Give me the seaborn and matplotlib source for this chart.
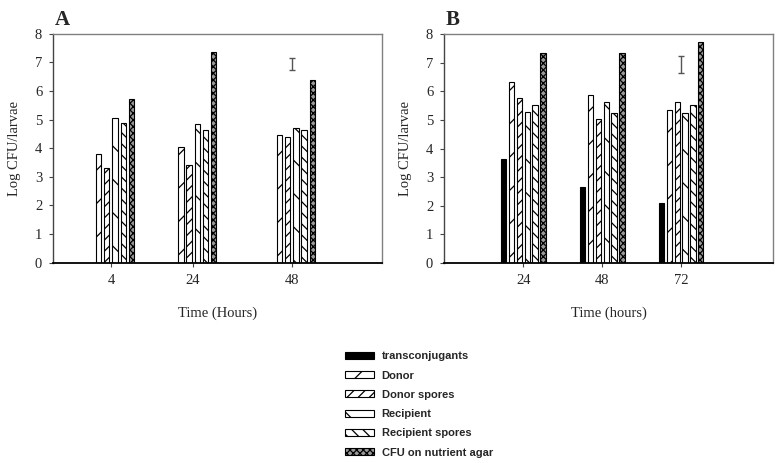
"""
Log CFU/larvae por tiempo — panel A (sin transconjugantes) y panel B.
"""
import matplotlib

matplotlib.use("Agg")
import matplotlib.pyplot as plt
import pandas as pd
import seaborn as sns
from matplotlib.patches import Patch

# --- series y estilo de relleno ----------------------------------------------
SERIES = ["transconjugants", "Donor", "Donor spores", "Recipient",
          "Recipient spores", "CFU on nutrient agar"]
FILL = {"transconjugants": "black", "Donor": "white", "Donor spores": "white",
        "Recipient": "white", "Recipient spores": "white",
        "CFU on nutrient agar": "#9a9a9a"}
HATCH = {"transconjugants": "", "Donor": "/", "Donor spores": "///",
         "Recipient": "\\", "Recipient spores": "\\\\\\",
         "CFU on nutrient agar": "xxxxx"}

# --- datos panel A ------------------------------------------------------------
HOURS_A = [4, 24, 48]
DONOR_A = [3.80, 4.04, 4.47]
DONOR_SPORES_A = [3.32, 3.42, 4.40]
RECIPIENT_A = [5.06, 4.85, 4.71]
RECIPIENT_SPORES_A = [4.88, 4.63, 4.64]
CFU_A = [5.72, 7.36, 6.40]
ERR_A = (48, 6.96, 0.21)  # x, centro, semiamplitud

# --- datos panel B ------------------------------------------------------------
HOURS_B = [24, 48, 72]
TRANS_B = [3.64, 2.66, 2.11]
DONOR_B = [6.34, 5.89, 5.36]
DONOR_SPORES_B = [5.78, 5.03, 5.62]
RECIPIENT_B = [5.27, 5.63, 5.24]
RECIPIENT_SPORES_B = [5.54, 5.24, 5.53]
CFU_B = [7.35, 7.34, 7.73]
ERR_B = (72, 6.95, 0.30)

sns.set_style("ticks")
plt.rcParams["font.family"] = ["Liberation Serif", "DejaVu Serif"]
plt.rcParams["hatch.linewidth"] = 0.9


def largo(horas, columnas):
    filas = []
    for serie, valores in columnas.items():
        for h, v in zip(horas, valores):
            filas.append({"hora": h, "serie": serie, "valor": v})
    return pd.DataFrame(filas)


def panel(ax, df, xlim, ticks, err, xlabel, letra, fig):
    sns.barplot(data=df, x="hora", y="valor", hue="serie", hue_order=SERIES,
                palette=FILL, native_scale=True, width=0.6, gap=0.34,
                errorbar=None, legend=False, saturation=1, ax=ax)
    niveles = [s for s in SERIES if s in set(df["serie"])]
    conts = [c for c in ax.containers if len(c) > 0]
    for nivel, cont in zip(niveles, conts):
        for p in cont:
            p.set_hatch(HATCH[nivel])
            p.set_edgecolor("black")
            p.set_linewidth(0.8)
    ax.errorbar(err[0], err[1], yerr=err[2], color="#555555", lw=1,
                capsize=2.5, capthick=1)
    ax.set_xlim(*xlim)
    ax.set_ylim(0, 8)
    ax.set_xticks(ticks)
    ax.set_xticklabels([str(t) for t in ticks])
    ax.set_yticks(range(9))
    ax.tick_params(axis="both", labelsize=10.5, length=3, width=0.8, pad=5,
                   color="#444444")
    ax.set_xlabel(xlabel, fontsize=10.5, labelpad=14)
    ax.set_ylabel("Log CFU/larvae", fontsize=10.5, labelpad=10)
    for lado in ["top", "right"]:
        ax.spines[lado].set_visible(True)
        ax.spines[lado].set_color("#808080")
        ax.spines[lado].set_linewidth(1)
    ax.spines["left"].set_color("#444444")
    ax.spines["left"].set_linewidth(1)
    ax.spines["bottom"].set_color("black")
    ax.spines["bottom"].set_linewidth(1.3)
    pos = ax.get_position()
    fig.text(pos.x0 + 0.002, 0.945, letra, fontsize=15, fontweight="bold",
             ha="left", va="baseline")


fig = plt.figure(figsize=(7.84, 4.63), dpi=100)
ax_a = fig.add_axes([0.068, 0.433, 0.4196, 0.494])
ax_b = fig.add_axes([0.5667, 0.432, 0.4196, 0.494])

df_a = largo(HOURS_A, {"Donor": DONOR_A, "Donor spores": DONOR_SPORES_A,
                       "Recipient": RECIPIENT_A, "Recipient spores": RECIPIENT_SPORES_A,
                       "CFU on nutrient agar": CFU_A})
df_b = largo(HOURS_B, {"transconjugants": TRANS_B, "Donor": DONOR_B,
                       "Donor spores": DONOR_SPORES_B, "Recipient": RECIPIENT_B,
                       "Recipient spores": RECIPIENT_SPORES_B,
                       "CFU on nutrient agar": CFU_B})

panel(ax_a, df_a, (-10, 70), HOURS_A, ERR_A, "Time (Hours)", "A", fig)
panel(ax_b, df_b, (0, 100), HOURS_B, ERR_B, "Time (hours)", "B", fig)

handles = [Patch(facecolor=FILL[s], edgecolor="black", hatch=HATCH[s], lw=0.8)
           for s in SERIES]
fig.legend(handles, SERIES, loc="upper left", bbox_to_anchor=(0.440, 0.241),
           frameon=False, borderpad=0, borderaxespad=0, handlelength=2.6,
           handleheight=0.6, handletextpad=0.7, labelspacing=0.83,
           prop={"family": ["Liberation Sans", "DejaVu Sans"], "size": 8,
                 "weight": "bold"})

fig.savefig("out.png", dpi=100)
